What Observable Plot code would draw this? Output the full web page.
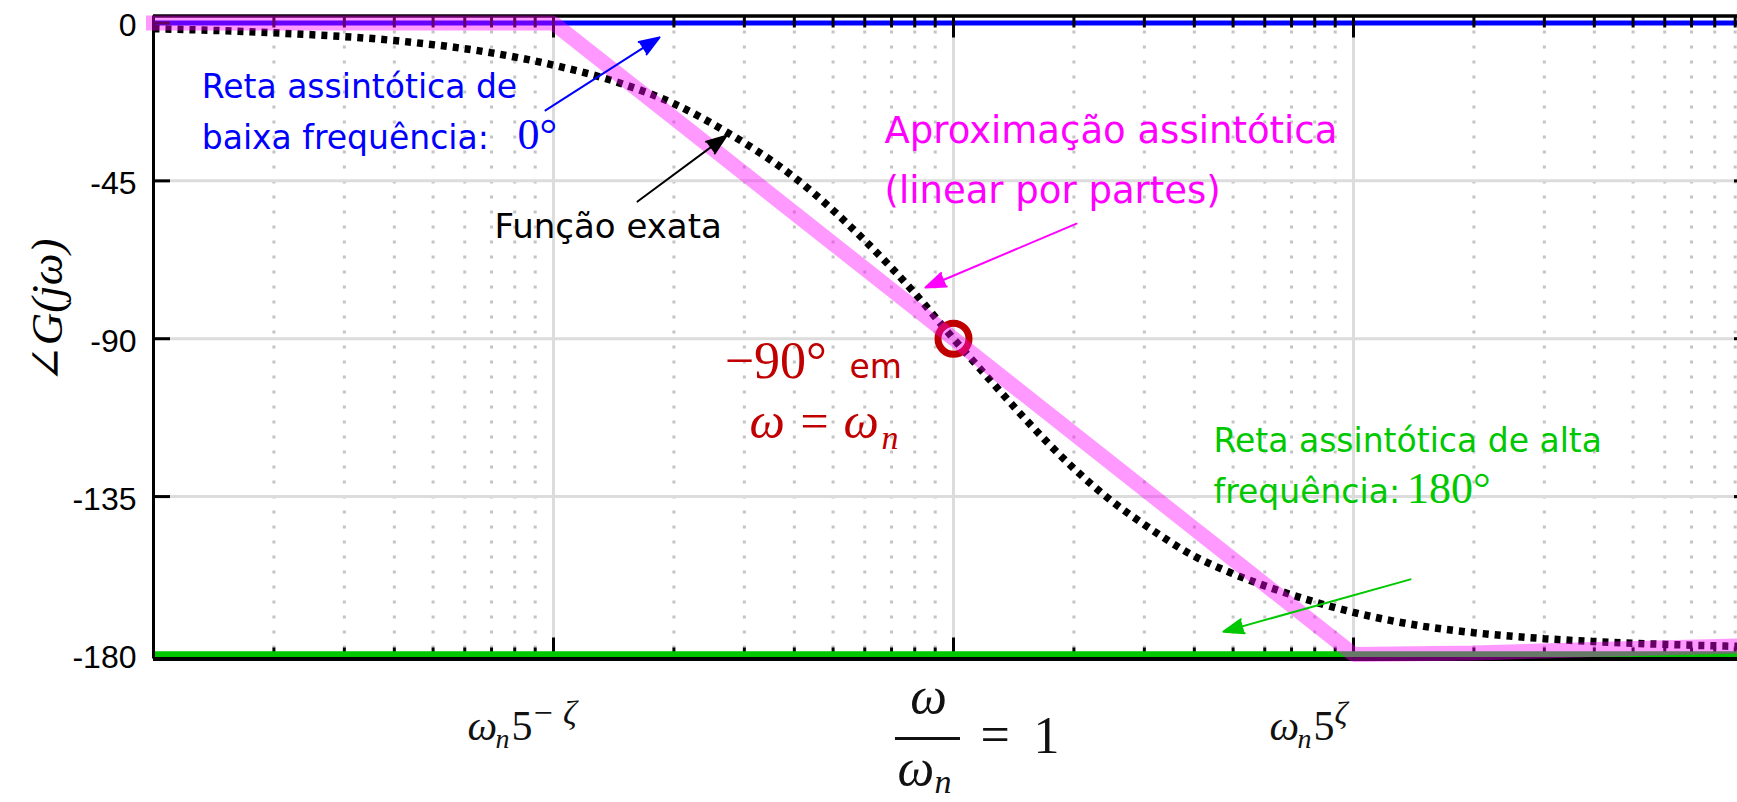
<!DOCTYPE html>
<html>
<head>
<meta charset="utf-8">
<script src="https://cdn.jsdelivr.net/npm/d3@7"></script>
<script src="https://cdn.jsdelivr.net/npm/@observablehq/plot@0.6"></script>
<style>
  body { margin: 0; background: #fff; }
  svg { display: block; }
</style>
</head>
<body>
<div id="chart"></div>
<script>
// ---------------- data ----------------
// exact phase curve of the second-order system
const freqRatio = [0.01, 0.02, 0.04, 0.07, 0.1, 0.15, 0.2, 0.27, 0.4, 0.6, 0.8, 1, 1.25, 1.5, 2, 2.5, 3, 4, 5, 7, 10, 15, 20, 30, 50, 91.2];
const exactPhase = [-1.6, -2.8, -5.0, -8.5, -12, -17.5, -23, -31, -44, -62, -77, -90, -102.5, -112.5, -127, -136.5, -143, -152, -157, -163, -168, -172, -173.8, -175.5, -176.8, -177.7];

// piecewise-linear asymptotic approximation
const asymFreq = [0.01, 0.1, 1, 10, 20, 40, 91.2];
const asymPhase = [0, 0, -90, -180, -179.6, -178.6, -177.6];

// asymptotes
const lowAsymptote = [0];
const highAsymptote = [-180];

// axes
const xDomain = [0.01, 91.2];
const yDomain = [-181.3, 2];
const yTicks = [0, -45, -90, -135, -180];
const yGridTicks = [-45, -90, -135];
const xMajorTicks = [0.1, 1, 10];
const xMinorTicks = [0.02, 0.03, 0.04, 0.05, 0.06, 0.07, 0.08, 0.09,
                     0.2, 0.3, 0.4, 0.5, 0.6, 0.7, 0.8, 0.9,
                     2, 3, 4, 5, 6, 7, 8, 9,
                     20, 30, 40, 50, 60, 70, 80, 90];
const leftTick = [0.1];
const centerTick = [1];
const rightTick = [10];

// highlighted point
const crossing = [{x: 1, y: -90}];

// annotations (data coordinates)
const blueNotes = [
  {x: 0.0132, y: -21.5, t: "Reta assintótica de"},
  {x: 0.0132, y: -35.8, t: "baixa frequência:"}
];
const blueMath = [{x: 0.0813, y: -35.8, t: "0°"}];
const blackNotes = [{x: 0.0712, y: -61.4, t: "Função exata"}];
const pinkNotes = [
  {x: 0.672, y: -34.3, t: "Aproximação assintótica"},
  {x: 0.672, y: -51.2, t: "(linear por partes)"}
];
const greenNotes = [
  {x: 4.467, y: -122.4, t: "Reta assintótica de alta"},
  {x: 4.467, y: -136.7, t: "frequência:"}
];
const greenMath = [{x: 13.6, y: -136.7, t: "180°"}];
const redMath = [{x: 0.268, y: -101.3, t: "−90°"}];
const redWord = [{x: 0.5495, y: -101.3, t: "em"}];
const redEq = [{x: 0.309, y: -118.2, t: "ω = ω"}];
const redSub = [{x: 0.661, y: -121.3, t: "n"}];
const yLabel = [{x: 0.01, y: -82, t: "∠G(jω)"}];
const fractionBar = [{x1: 0.716, x2: 1.041, y: -180}];

const arrows = [
  {x1: 0.0955, y1: -24.9, x2: 0.1841, y2: -4.1, c: "#0000ff"},
  {x1: 0.1622, y1: -50.9, x2: 0.2707, y2: -32.1, c: "#000000"},
  {x1: 2.030, y1: -57.2, x2: 0.851, y2: -75.4, c: "#ff00ff"},
  {x1: 13.88, y1: -158.6, x2: 4.73, y2: -173.5, c: "#00c800"}
];

// ---------------- chart ----------------
const exact = freqRatio.map((x, i) => ({x, y: exactPhase[i]}));
const asym = asymFreq.map((x, i) => ({x, y: asymPhase[i]}));

const W = 1737, H = 802;
const mL = 153, mR = 0, mT = 15.5, mB = 143.5;
const frameW = W - mL - mR, frameH = H - mT - mB;

const sans = "DejaVu Sans, sans-serif";
const serif = "Liberation Serif, DejaVu Serif, serif";
const tickFont = "Liberation Sans, Arial, sans-serif";
const BLUE = "#0000ff", GREEN = "#00c800", PINK = "#ff00ff", RED = "#c00000";

const txt = (data, o) => Plot.text(data, {x: "x", y: "y", text: "t", textAnchor: "start", lineAnchor: "bottom", ...o});
const lbl = (data, s, o) => Plot.text(data, {x: d => d, y: highAsymptote[0], text: () => s, textAnchor: "start", lineAnchor: "bottom", fontFamily: serif, fill: "#111", ...o});

const chart = Plot.plot({
  width: W, height: H,
  marginLeft: mL, marginRight: mR, marginTop: mT, marginBottom: mB,
  style: {background: "#fff", color: "#000", overflow: "hidden"},
  x: {type: "log", domain: xDomain, axis: null},
  y: {domain: yDomain, axis: null},
  marks: [
    // grid
    Plot.ruleX(xMinorTicks, {stroke: "#c4c4c4", strokeWidth: 3, strokeDasharray: "3,12"}),
    Plot.ruleX(xMajorTicks, {stroke: "#dcdcdc", strokeWidth: 3}),
    Plot.ruleY(yGridTicks, {stroke: "#dcdcdc", strokeWidth: 3}),
    // low-frequency asymptote
    Plot.ruleY(lowAsymptote, {stroke: BLUE, strokeWidth: 5}),
    // ticks (inward)
    Plot.ruleX(xMinorTicks, {insetTop: frameH - 11, stroke: "#000", strokeWidth: 3}),
    Plot.ruleX(xMajorTicks, {insetTop: frameH - 21, stroke: "#000", strokeWidth: 3}),
    Plot.ruleX(xMinorTicks, {insetBottom: frameH - 12, stroke: "#000", strokeWidth: 3}),
    Plot.ruleX(xMajorTicks, {insetBottom: frameH - 22, stroke: "#000", strokeWidth: 3}),
    Plot.ruleY(yTicks, {insetRight: frameW - 17, stroke: "#000", strokeWidth: 3}),
    Plot.ruleY(yGridTicks, {insetLeft: frameW - 3, stroke: "#000", strokeWidth: 3}),
    // high-frequency asymptote
    Plot.ruleY(highAsymptote, {stroke: GREEN, strokeWidth: 6.5}),
    // axes borders
    Plot.ruleY([yDomain[1]], {stroke: "#000", strokeWidth: 3.5}),
    Plot.ruleY([yDomain[0]], {stroke: "#000", strokeWidth: 4}),
    Plot.ruleX([xDomain[0]], {stroke: "#000", strokeWidth: 3}),
    // exact function (thick dotted)
    Plot.line(exact, {x: "x", y: "y", stroke: "#000", strokeWidth: 7.5, strokeDasharray: "6,6", strokeLinecap: "butt", strokeLinejoin: "miter", curve: "monotone-x"}),
    // -90 marker
    Plot.dot(crossing, {x: "x", y: "y", r: 15.5, stroke: RED, strokeWidth: 7, fill: "none"}),
    // asymptotic approximation
    Plot.line(asym, {x: "x", y: "y", stroke: PINK, strokeOpacity: 0.4, strokeWidth: 15, strokeLinecap: "square", strokeLinejoin: "miter"}),
    // y tick labels
    Plot.text(yTicks, {y: d => d, text: d => String(d), frameAnchor: "left", dx: -17, dy: 3, textAnchor: "end", lineAnchor: "middle", fontSize: 32, fontFamily: tickFont, fill: "#000", ariaLabel: "ytick-labels"}),
    // y label
    Plot.text(yLabel, {x: "x", y: "y", text: "t", dx: -106, rotate: -90, textAnchor: "middle", lineAnchor: "middle", fontSize: 45, fontFamily: serif, fontStyle: "italic", fill: "#000"}),
    // x tick labels: left  ω_n 5^{-ζ}
    lbl(leftTick, "ω", {dx: -86, dy: 86, fontSize: 42, fontStyle: "italic"}),
    lbl(leftTick, "n", {dx: -58, dy: 94, fontSize: 28, fontStyle: "italic"}),
    lbl(leftTick, "5", {dx: -42, dy: 86, fontSize: 42}),
    lbl(leftTick, "− ζ", {dx: -22, dy: 70, fontSize: 34, fontStyle: "italic"}),
    // right  ω_n 5^{ζ}
    lbl(rightTick, "ω", {dx: -84, dy: 86, fontSize: 42, fontStyle: "italic"}),
    lbl(rightTick, "n", {dx: -56, dy: 94, fontSize: 28, fontStyle: "italic"}),
    lbl(rightTick, "5", {dx: -40, dy: 86, fontSize: 42}),
    lbl(rightTick, "ζ", {dx: -19, dy: 70, fontSize: 32, fontStyle: "italic"}),
    // center  ω/ω_n = 1
    lbl(centerTick, "ω", {dx: -25, dy: 59, textAnchor: "middle", fontSize: 52, fontStyle: "italic"}),
    Plot.ruleY(fractionBar, {x1: "x1", x2: "x2", y: "y", dy: 84, stroke: "#111", strokeWidth: 3}),
    lbl(centerTick, "ω", {dx: -56, dy: 131, fontSize: 52, fontStyle: "italic"}),
    lbl(centerTick, "n", {dx: -19, dy: 139, fontSize: 34, fontStyle: "italic"}),
    lbl(centerTick, "=", {dx: 27, dy: 98, fontSize: 52}),
    lbl(centerTick, "1", {dx: 80, dy: 99, fontSize: 52}),
    // annotations
    txt(blueNotes, {fill: BLUE, fontSize: 33, fontFamily: sans}),
    txt(blueMath, {fill: BLUE, fontSize: 44, fontFamily: serif}),
    txt(blackNotes, {fill: "#000", fontSize: 34, fontFamily: sans}),
    txt(pinkNotes, {fill: PINK, fontSize: 37, fontFamily: sans}),
    txt(greenNotes, {fill: GREEN, fontSize: 33, fontFamily: sans}),
    txt(greenMath, {fill: GREEN, fontSize: 44, fontFamily: serif}),
    txt(redMath, {fill: RED, fontSize: 52, fontFamily: serif}),
    txt(redWord, {fill: RED, fontSize: 33, fontFamily: sans}),
    txt(redEq, {fill: RED, fontSize: 50, fontFamily: serif, fontStyle: "italic"}),
    txt(redSub, {fill: RED, fontSize: 34, fontFamily: serif, fontStyle: "italic"}),
    // arrows
    Plot.arrow(arrows, {x1: "x1", y1: "y1", x2: "x2", y2: "y2", stroke: "c", fill: "c", strokeWidth: 2, headLength: 16, headAngle: 40})
  ]
});

// condense the y tick labels horizontally (the reference uses a narrow face)
d3.select(chart).selectAll('g[aria-label="ytick-labels"] text').attr("transform", function () {
  return (this.getAttribute("transform") || "") + " scale(0.7,1)";
});

document.getElementById("chart").appendChild(chart);
</script>
</body>
</html>
